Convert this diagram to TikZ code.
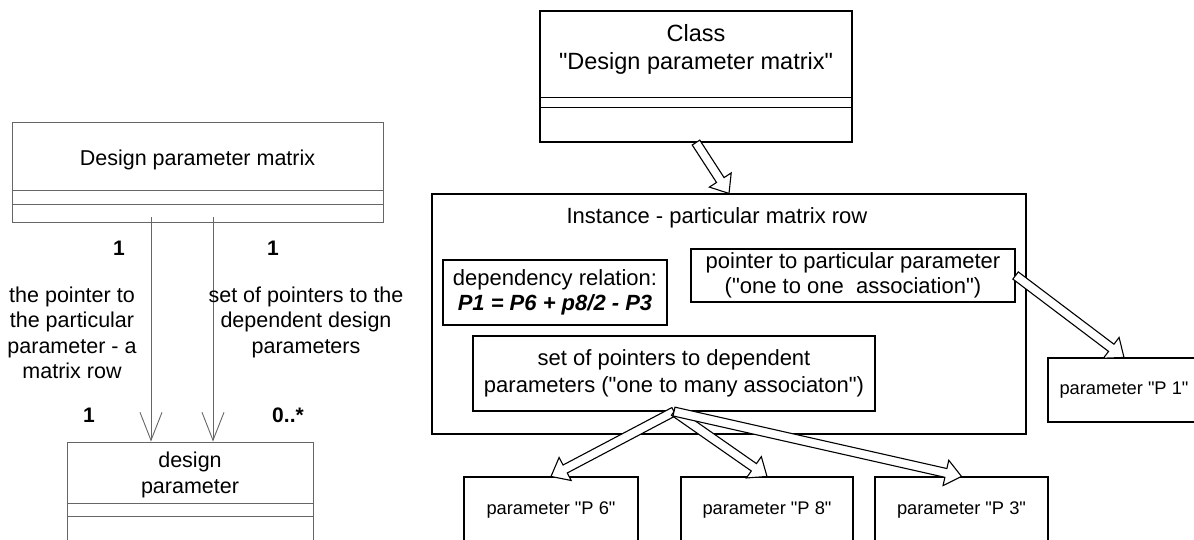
\documentclass[tikz,border=0pt]{standalone}
\usepackage{fontspec}
\setmainfont{Liberation Sans}[Ligatures=TeXOff]
\usepackage{tikz}
\usetikzlibrary{arrows.meta}
\usetikzlibrary{calc}

% hollow block arrow from #1 to #2
\newcommand{\blockarrow}[2]{%
\coordinate (bneck) at ($(#2)!16pt!(#1)$);
\draw[blockarr] ($(#1)!4.5pt!90:(#2)$) -- ($(bneck)!4.5pt!90:(#2)$) -- ($(bneck)!13pt!90:(#2)$) -- (#2)
   -- ($(bneck)!13pt!-90:(#2)$) -- ($(bneck)!4.5pt!-90:(#2)$) -- ($(#1)!4.5pt!-90:(#2)$) -- cycle ;
}

\begin{document}
\begin{tikzpicture}[x=1pt,y=-1pt,
  umlbox/.style={draw=black!60, line width=0.9pt, inner sep=0pt},
  umlline/.style={draw=black!60, line width=0.9pt},
  box/.style={draw, line width=1.1pt, inner sep=0pt, align=center, font=\fontsize{22}{25}\selectfont},
  parbox/.style={draw, line width=1.1pt, inner sep=0pt, font=\fontsize{18.3}{21}\selectfont},
  blockarr/.style={draw, fill=white, line width=1.1pt, line join=miter},
  lbl/.style={align=center, font=\fontsize{21.5}{25.5}\selectfont},
  mult/.style={font=\fontsize{21}{25}\selectfont\bfseries}]

\useasboundingbox (0,0) rectangle (1194,540);
\clip (0,0) rectangle (1194,540);

% left: class diagram
\node[umlbox, minimum width=371pt, minimum height=100pt] (dpm) at (197.5,172) {};
\node[lbl] (dpmtxt) at (197.5,160) {Design parameter matrix};
\draw[umlline] ([yshift=-69pt]dpm.north west) -- ([yshift=-69pt]dpm.north east);
\draw[umlline] ([yshift=-83pt]dpm.north west) -- ([yshift=-83pt]dpm.north east);

\node[umlbox, minimum width=246pt, minimum height=118pt] (dp) at (190,501) {};
\node[lbl] (dptxt) at (190,475) {design\\parameter};
\draw[umlline] ([yshift=-62pt]dp.north west) -- ([yshift=-62pt]dp.north east);
\draw[umlline] ([yshift=-75pt]dp.north west) -- ([yshift=-75pt]dp.north east);

\draw[umlline, -{Straight Barb[length=28pt,width=22pt]}] ([xshift=-39pt,yshift=5pt]dp.north |- dpm.south) -- ([xshift=-39pt]dp.north);
\draw[umlline, -{Straight Barb[length=28pt,width=22pt]}] ([xshift=23pt,yshift=5pt]dp.north |- dpm.south) -- ([xshift=23pt]dp.north);

\node[mult] (mulA) at (119,248) {1};
\node[mult] (mulB) at (273,248) {1};
\node[mult] (mulC) at (89,415) {1};
\node[mult] (mulD) at (288,415) {0..*};

\node[lbl] (roleA) at (72,333) {the pointer to\\the particular\\parameter - a\\matrix row};
\node[lbl] (roleB) at (306,322) {set of pointers to the\\dependent design\\parameters};

% right: class and instance
\node[box, minimum width=312pt, minimum height=131pt] (cls) at (696,76.5) {};
\node[lbl, font=\fontsize{23.5}{28}\selectfont] (clstxt) at (696,49) {Class\\"Design parameter matrix"};
\draw[line width=1.1pt] ([yshift=-87pt]cls.north west) -- ([yshift=-87pt]cls.north east);
\draw[line width=1.1pt] ([yshift=-97pt]cls.north west) -- ([yshift=-97pt]cls.north east);

\node[box, minimum width=594pt, minimum height=240pt] (inst) at (729,314) {};
\node[lbl, font=\fontsize{22}{26}\selectfont] (insttxt) at (717,218) {Instance - particular matrix row};

\node[box, minimum width=224pt, minimum height=65pt] (dep) at (555,292.5) {dependency relation:\\\textbf{\textit{P1 = P6 + p8/2 - P3}}};
\node[box, minimum width=324pt, minimum height=53pt] (ptr) at (853,275.5) {pointer to particular parameter\\("one to one\ \ association")};
\node[box, minimum width=402pt, minimum height=75pt, font=\fontsize{22}{27}\selectfont] (set) at (674,373.5) {set of pointers to dependent\\parameters ("one to many associaton")};

\node[parbox, minimum width=152pt, minimum height=64pt] (P1) at (1124,390) {parameter "P 1"};
\node[parbox, minimum width=174pt, minimum height=66pt] (P6) at (551,510) {parameter "P 6"};
\node[parbox, minimum width=172pt, minimum height=66pt] (P8) at (767,510) {parameter "P 8"};
\node[parbox, minimum width=173pt, minimum height=66pt] (P3) at (961.5,510) {parameter "P 3"};

\blockarrow{cls.south}{inst.north}
\blockarrow{ptr.east}{P1.north}
\blockarrow{set.south}{P6.north}
\blockarrow{set.south}{P8.north}
\blockarrow{set.south}{P3.north}

\end{tikzpicture}
\end{document}
